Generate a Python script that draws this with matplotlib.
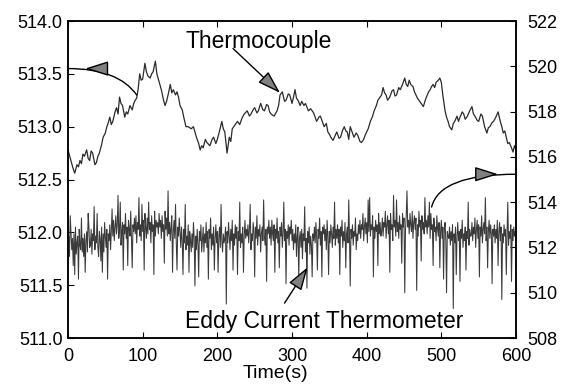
import matplotlib
matplotlib.use("Agg")
import matplotlib.pyplot as plt

plt.rcParams['font.family'] = ['Liberation Sans', 'DejaVu Sans']

# Thermocouple (left axis)
tc_time = [0, 3, 5, 7, 9, 12, 14, 16, 18, 20, 22, 25, 27, 29, 31, 33, 36, 38, 40, 42, 45, 47, 50, 52, 54, 56, 58, 60, 63, 65, 67, 69, 71, 73, 76, 78, 80,
           83, 86, 88, 90, 92, 94, 96, 98, 100, 103, 105, 107, 110, 112, 114, 117, 119, 121, 123, 125, 128, 130, 132, 134, 137, 139, 141, 144, 146, 148, 150, 153, 155, 158,
           161, 165, 168, 172, 175, 177, 179, 181, 184, 186, 190, 193, 195, 198, 200, 203, 206, 208, 210, 213, 216, 218, 220, 224, 227, 230, 233, 236, 240, 243, 245, 248, 250,
           253, 255, 258, 261, 263, 266, 268, 270, 272, 276, 280, 282, 284, 287, 290, 292, 295, 297, 300, 302, 304, 306, 308, 311, 313, 316, 318, 322, 325, 329, 333, 336, 338,
           341, 343, 346, 348, 350, 352, 355, 358, 360, 363, 365, 368, 370, 372, 374, 376, 378, 381, 383, 386, 388, 391, 393, 396, 398, 402, 405, 408, 410, 413, 415, 418, 420, 422, 424, 426,
           428, 431, 434, 436, 438, 440, 443, 445, 448, 451, 453, 455, 457, 459, 462, 464, 466, 468, 470, 473, 476, 478, 480, 483, 485, 487, 489, 491, 493, 496, 498, 500, 502, 505, 507,
           509, 511, 514, 516, 518, 521, 523, 525, 528, 530, 532, 535, 538, 541, 543, 545, 548, 550, 553, 555, 558, 561, 563, 565, 568, 570, 573, 576, 579, 581, 583, 585, 587, 589, 591,
           594, 596, 598, 600]
tc_value = [512.78, 512.70, 512.65, 512.60, 512.56, 512.64, 512.62, 512.68, 512.65, 512.74, 512.72, 512.78, 512.70, 512.68, 512.77, 512.75, 512.64, 512.66, 512.72, 512.75, 512.83, 512.90, 512.94, 513.00, 513.04, 513.09, 513.02, 513.05, 513.14, 513.18, 513.12, 513.28, 513.22, 513.20, 513.09, 513.14, 513.12,
            513.20, 513.16, 513.22, 513.25, 513.27, 513.36, 513.50, 513.44, 513.45, 513.60, 513.52, 513.48, 513.46, 513.50, 513.52, 513.62, 513.50, 513.45, 513.40, 513.35, 513.25, 513.20, 513.24, 513.30, 513.40, 513.32, 513.35, 513.30, 513.33, 513.28, 513.20, 513.16, 513.09, 513.00,
            513.00, 512.98, 513.00, 512.90, 512.84, 512.78, 512.82, 512.80, 512.88, 512.85, 512.82, 512.88, 512.90, 512.84, 512.88, 512.96, 513.05, 512.98, 512.95, 512.75, 512.90, 512.86, 512.98, 513.02, 513.05, 513.02, 513.08, 513.12, 513.15, 513.10, 513.12, 513.16, 513.18,
            513.13, 513.15, 513.22, 513.16, 513.15, 513.21, 513.20, 513.14, 513.12, 513.10, 513.15, 513.20, 513.30, 513.33, 513.24, 513.25, 513.31, 513.30, 513.22, 513.28, 513.35, 513.27, 513.25, 513.20, 513.24, 513.20, 513.22, 513.15, 513.17, 513.13, 513.05, 513.09, 513.10,
            513.04, 513.00, 513.03, 512.95, 512.93, 512.90, 512.87, 512.92, 512.95, 512.89, 512.90, 512.97, 513.00, 512.96, 512.95, 512.88, 513.00, 512.94, 512.90, 512.94, 512.92, 512.86, 512.85, 512.88, 512.92, 512.98, 513.05, 513.10, 513.15, 513.20, 513.25, 513.28, 513.30, 513.37, 513.32, 513.30,
            513.25, 513.28, 513.34, 513.35, 513.29, 513.30, 513.37, 513.35, 513.40, 513.46, 513.40, 513.38, 513.44, 513.40, 513.38, 513.33, 513.30, 513.27, 513.25, 513.22, 513.19, 513.24, 513.28, 513.33, 513.35, 513.38, 513.40, 513.37, 513.42, 513.44, 513.46, 513.42, 513.30, 513.15, 513.09,
            513.05, 513.00, 512.97, 513.03, 513.05, 513.10, 513.05, 513.09, 513.14, 513.12, 513.07, 513.10, 513.15, 513.19, 513.12, 513.10, 513.06, 513.05, 513.12, 513.10, 513.00, 512.94, 512.99, 513.00, 513.04, 513.05, 513.09, 513.14, 513.05, 513.00, 512.94, 512.96, 512.90, 512.84, 512.85,
            512.80, 512.76, 512.82, 512.78]

# Eddy current thermometer (right axis), one reading per second
ec_time = list(range(0, 600))
ec_value = [
    511.8, 512.5, 511.6, 513.4, 512.7, 511.9, 512.4, 511.2, 512.6, 510.8, 512.9, 511.7, 512.2, 512.5, 510.6, 512.8, 512.1, 511.9, 513.3, 511.8, 512.4, 511.6, 512.6, 510.9, 512.3, 512.7, 511.8, 513.5, 512.9, 512.0,
    512.1, 512.8, 511.7, 512.6, 512.3, 513.8, 511.9, 512.5, 512.2, 513.5, 512.0, 511.6, 512.7, 512.4, 511.4, 512.9, 510.9, 512.6, 511.8, 513.1, 512.5, 512.0, 512.8, 510.6, 512.6, 512.3, 513.0, 511.9, 512.7, 513.7,
    512.5, 513.2, 512.3, 512.9, 513.4, 512.6, 513.0, 514.3, 512.4, 512.8, 514.0, 512.1, 512.7, 513.1, 511.0, 513.0, 512.6, 513.5, 512.4, 512.9, 511.2, 513.2, 512.8, 512.5, 513.6, 512.3, 511.1, 513.0, 512.7, 513.3,
    512.6, 513.4, 512.2, 513.1, 512.8, 514.2, 512.5, 513.0, 512.3, 513.9, 512.7, 513.2, 511.0, 513.5, 512.9, 512.4, 513.3, 512.6, 514.0, 512.8, 513.1, 512.2, 513.4, 512.7, 513.0, 510.8, 513.6, 512.5, 513.2, 512.9,
    513.1, 512.6, 513.5, 512.9, 513.2, 512.4, 513.4, 512.7, 513.0, 511.3, 513.6, 512.8, 513.3, 512.5, 514.5, 512.6, 513.1, 512.3, 512.9, 513.4, 510.9, 512.7, 513.2, 512.4, 513.9, 512.2, 511.0, 512.9, 512.5, 513.3,
    512.6, 512.0, 512.9, 512.3, 510.8, 512.8, 512.2, 513.9, 511.9, 512.5, 512.1, 513.0, 510.9, 512.7, 512.3, 511.8, 512.6, 512.0, 513.1, 512.4, 510.3, 512.5, 511.9, 512.8, 512.2, 510.7, 512.7, 512.3, 513.0, 511.8,
    512.3, 512.9, 511.8, 512.6, 512.2, 513.1, 512.0, 512.7, 510.6, 512.8, 512.4, 513.3, 511.9, 512.6, 512.1, 512.9, 511.0, 512.4, 513.0, 512.2, 512.7, 510.9, 512.5, 512.9, 512.0, 513.9, 512.3, 511.8, 512.6, 512.2,
    512.4, 512.9, 509.5, 512.7, 512.2, 513.1, 512.5, 511.9, 512.8, 512.3, 513.2, 511.0, 512.6, 512.1, 513.0, 512.4, 512.9, 510.8, 512.7, 512.3, 514.0, 512.0, 512.6, 512.2, 512.9, 510.9, 512.5, 513.2, 512.4, 512.8,
    512.5, 513.0, 512.2, 512.8, 513.9, 511.9, 512.6, 512.3, 513.1, 512.7, 510.7, 512.9, 512.4, 513.4, 512.1, 512.8, 512.5, 513.0, 511.8, 512.6, 512.9, 512.3, 514.1, 512.5, 512.1, 512.8, 510.5, 512.9, 512.6, 513.2,
    512.4, 512.9, 512.1, 513.2, 512.6, 512.3, 513.0, 510.9, 512.8, 512.4, 513.3, 512.2, 512.7, 511.1, 512.9, 512.5, 513.1, 512.0, 512.6, 514.0, 512.3, 512.8, 510.4, 512.7, 512.4, 513.0, 512.1, 512.9, 512.6, 513.2,
    512.3, 512.8, 511.9, 512.6, 512.2, 513.0, 511.6, 512.5, 512.9, 510.6, 512.4, 512.7, 512.0, 512.8, 511.5, 512.6, 512.3, 513.8, 511.8, 512.4, 510.2, 512.7, 512.2, 512.9, 511.7, 512.5, 512.1, 510.7, 512.6, 512.3,
    512.9, 512.2, 513.1, 512.5, 511.0, 512.8, 512.4, 513.3, 512.1, 512.7, 510.7, 512.9, 512.6, 513.0, 512.3, 512.8, 511.9, 513.2, 512.5, 510.8, 512.7, 512.2, 513.0, 512.6, 512.0, 512.9, 512.4, 514.0, 512.1, 512.8,
    512.4, 513.0, 512.2, 512.8, 510.8, 512.9, 512.5, 513.2, 512.0, 512.7, 512.3, 513.1, 511.1, 512.6, 512.9, 512.2, 514.1, 512.5, 510.3, 512.8, 512.4, 513.0, 512.1, 512.7, 512.5, 513.3, 511.9, 512.6, 512.3, 513.0,
    512.6, 513.2, 512.4, 513.0, 512.8, 513.5, 512.3, 512.9, 513.3, 512.6, 513.1, 512.2, 514.1, 512.7, 514.2, 512.5, 513.0, 512.8, 513.4, 510.7, 512.9, 512.4, 513.2, 512.7, 513.0, 511.2, 513.5, 512.6, 513.1, 512.5,
    512.7, 513.3, 512.5, 513.1, 512.9, 513.6, 512.4, 513.0, 513.4, 512.6, 513.2, 510.9, 513.5, 512.8, 513.0, 512.3, 514.3, 512.9, 513.2, 512.5, 514.1, 512.7, 513.1, 512.4, 513.4, 512.8, 513.0, 511.3, 513.5, 512.9,
    513.3, 510.0, 512.8, 513.4, 514.5, 512.9, 513.2, 512.6, 513.5, 513.0, 512.7, 513.6, 512.4, 513.1, 513.4, 512.8, 513.3, 510.1, 513.0, 512.5, 513.6, 512.9, 513.2, 511.4, 513.4, 512.8, 513.1, 512.6, 514.2, 512.9,
    513.2, 512.6, 513.4, 512.9, 514.0, 512.4, 513.5, 512.8, 513.0, 511.2, 513.3, 512.7, 512.9, 512.3, 513.4, 512.8, 512.5, 513.1, 511.1, 512.7, 513.2, 512.4, 512.9, 510.6, 512.8, 513.1, 512.3, 510.0, 512.7, 512.5,
    512.4, 512.9, 512.1, 512.7, 512.3, 513.0, 509.3, 512.6, 512.2, 512.9, 510.8, 512.5, 513.1, 512.3, 512.7, 510.5, 512.8, 512.4, 513.2, 512.0, 512.6, 512.3, 512.9, 511.0, 512.7, 512.4, 514.0, 512.1, 512.8, 512.5,
    512.5, 513.1, 512.3, 512.9, 512.6, 513.3, 512.0, 512.8, 513.2, 512.4, 513.0, 510.7, 512.9, 512.5, 513.4, 512.2, 512.8, 513.1, 512.6, 514.2, 512.3, 512.9, 511.1, 512.7, 513.2, 512.4, 513.0, 512.6, 510.4, 512.8,
    512.5, 513.0, 512.2, 512.8, 512.4, 513.2, 511.2, 512.7, 513.1, 512.3, 512.9, 509.7, 512.6, 512.2, 513.0, 512.5, 512.8, 510.8, 512.6, 514.0, 512.1, 512.7, 512.4, 513.0, 510.5, 512.8, 512.3, 512.9, 512.5, 512.7,
]

x_ticks = [0, 100, 200, 300, 400, 500, 600]
left_ticks = [511.0, 511.5, 512.0, 512.5, 513.0, 513.5, 514.0]
right_ticks = [508, 510, 512, 514, 516, 518, 520, 522]

fig = plt.figure(figsize=(5.63, 3.87), dpi=100)
ax1 = fig.add_axes([0.1208, 0.1266, 0.7957, 0.8191])
ax2 = ax1.twinx()

ax1.plot(tc_time, tc_value, color='#2a2a2a', lw=0.9)
ax2.plot(ec_time, ec_value, color='#3a3a3a', lw=0.75)

ax1.set_xlim(0, 600)
ax1.set_ylim(511.0, 514.0)
ax2.set_ylim(508, 522)
ax1.set_xticks(x_ticks)
ax1.set_yticks(left_ticks)
ax1.set_yticklabels([f"{v:.1f}" for v in left_ticks])
ax2.set_yticks(right_ticks)

fs = 13
ax1.tick_params(axis='x', direction='in', top=True, length=4, width=0.8, labelsize=fs, pad=7)
ax1.tick_params(axis='y', direction='in', length=4, width=0.8, labelsize=fs, pad=4)
ax2.tick_params(axis='y', direction='in', length=4, width=0.8, labelsize=fs, pad=8)
for ax in (ax1, ax2):
    for s in ax.spines.values():
        s.set_linewidth(1.1)

ax1.set_xlabel('Time(s)', fontsize=14, labelpad=0)
ax1.xaxis.set_label_coords(0.464, -0.085)

T = ax1.transData
head = dict(arrowstyle='-|>,head_length=1.2,head_width=0.38', mutation_scale=12,
            fc='#808080', ec='black', lw=1.0, shrinkA=0, shrinkB=0)

ax2.text(157, 513.745, 'Thermocouple', transform=T, fontsize=16.5, ha='left', va='baseline')
ax2.text(157, 511.09, 'Eddy Current Thermometer', transform=T, fontsize=16.5, ha='left', va='baseline')

# Thermocouple pointer
ax2.annotate('', xy=(284, 513.32), xycoords=T, xytext=(221, 513.74), textcoords=T, arrowprops=head)
# Eddy current pointer
ax2.annotate('', xy=(321, 511.67), xycoords=T, xytext=(290, 511.33), textcoords=T, arrowprops=head)
# left-axis indicator
ax2.annotate('', xy=(0, 513.55), xycoords=T, xytext=(92, 513.30), textcoords=T,
             arrowprops=dict(arrowstyle='-', lw=1.0, color='black', shrinkA=0, shrinkB=0,
                             connectionstyle='angle3,angleA=125,angleB=0'))
ax2.annotate('', xy=(23, 513.55), xycoords=T, xytext=(50, 513.55), textcoords=T, arrowprops=head)
# right-axis indicator
ax2.annotate('', xy=(600, 512.55), xycoords=T, xytext=(487, 512.24), textcoords=T,
             arrowprops=dict(arrowstyle='-', lw=1.0, color='black', shrinkA=0, shrinkB=0,
                             connectionstyle='angle3,angleA=76,angleB=0'))
ax2.annotate('', xy=(576, 512.55), xycoords=T, xytext=(552, 512.55), textcoords=T, arrowprops=head)

fig.savefig('out.png', dpi=100)
